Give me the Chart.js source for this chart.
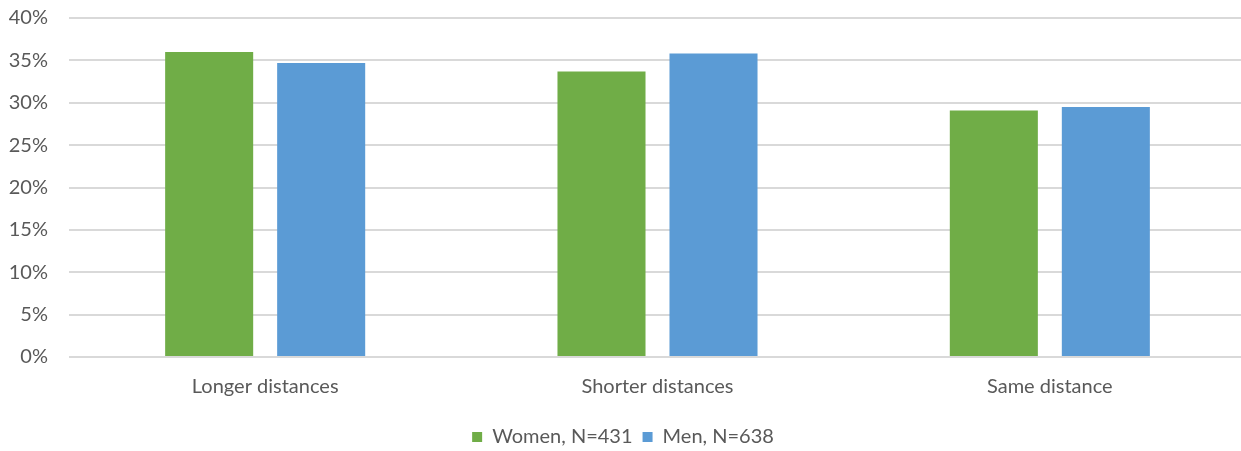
<!DOCTYPE html>
<html>
<head>
<meta charset="utf-8">
<script src="https://cdn.jsdelivr.net/npm/chart.js@4"></script>
<style>
  html, body { margin: 0; padding: 0; background: #fff; overflow: hidden; }
  #page { position: relative; width: 1241px; height: 451px; overflow: hidden; }
  #wrap { position: absolute; left: 0; top: -15px; width: 1246px; height: 474px; }
</style>
</head>
<body>
<div id="page"><div id="wrap"><canvas id="graph"></canvas></div></div>
<script>
const categories = ["Longer distances", "Shorter distances", "Same distance"];
const women = [36.0, 33.7, 29.1];
const men = [34.7, 35.8, 29.5];
const seriesNames = ["Women, N=431", "Men, N=638"];

const textColor = "#595959";
const fontFamily = "Lato, 'Open Sans', sans-serif";

const ctx = document.getElementById('graph');

new Chart(ctx, {
  type: 'bar',
  data: {
    labels: categories,
    datasets: [{
      label: seriesNames[0],
      data: women,
      backgroundColor: "#70AD47",
      categoryPercentage: 0.571,
      barPercentage: 0.786
    }, {
      label: seriesNames[1],
      data: men,
      backgroundColor: "#5B9BD5",
      categoryPercentage: 0.571,
      barPercentage: 0.786
    }]
  },
  options: {
    responsive: true,
    maintainAspectRatio: false,
    animation: false,
    layout: { padding: { top: 8, right: 0, bottom: 2, left: 0 } },
    plugins: {
      tooltip: { enabled: false },
      legend: {
        position: 'bottom',
        labels: {
          boxWidth: 10,
          boxHeight: 10,
          padding: 10,
          color: textColor,
          font: { family: fontFamily, size: 20 }
        }
      }
    },
    scales: {
      x: {
        grid: { display: false },
        border: { display: false },
        ticks: {
          color: textColor,
          font: { family: fontFamily, size: 20 },
          padding: 10
        },
        afterFit: (scale) => { scale.height = 60; }
      },
      y: {
        min: 0,
        max: 40,
        border: { display: false },
        grid: { color: "#D9D9D9", lineWidth: 2, drawTicks: false },
        ticks: {
          stepSize: 5,
          color: textColor,
          padding: 21,
          font: { family: fontFamily, size: 20 },
          callback: (v) => v + "%"
        },
        afterFit: (scale) => { scale.width = 69; }
      }
    }
  }
});
</script>
</body>
</html>
